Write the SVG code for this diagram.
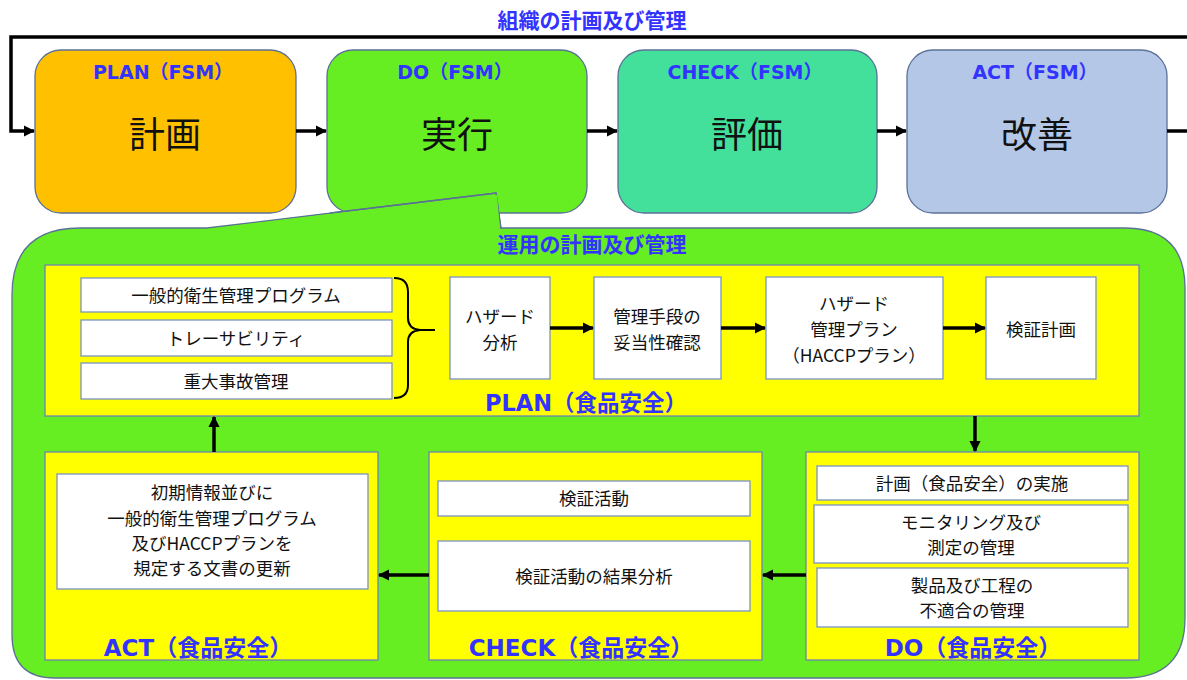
<svg xmlns="http://www.w3.org/2000/svg" width="1187" height="680" viewBox="0 0 1187 680">
<style>
.t{font-family:"Noto Sans CJK JP",sans-serif;fill:#111;text-anchor:middle;font-size:17.5px}
.m{font-size:36px}
.b{font-family:"DejaVu Sans","Noto Sans CJK JP",sans-serif;font-weight:bold;fill:#3333ff;text-anchor:middle}
.fsm{stroke:#5b7197;stroke-width:1.3}
.y{fill:#ffff00;stroke:#6c85b5;stroke-width:1.3}
.w{fill:#fff;stroke:#7a93c4;stroke-width:1.3}
.c{stroke:#000;stroke-width:3.5;fill:none}
</style>
<defs>
<marker id="ah" viewBox="0 0 10 10" refX="9" refY="5" markerWidth="3.2" markerHeight="3.2" orient="auto" markerUnits="strokeWidth"><path d="M0,0L10,5L0,10z" fill="#000"/></marker>
</defs>
<text class="b" x="592" y="28" font-size="21">組織の計画及び管理</text>
<g id="fsm-plan"><rect class="fsm" x="35" y="50" width="261" height="163" rx="26" fill="#ffc000"/><text class="b" x="163" y="79" font-size="19">PLAN（FSM）</text><text class="t m" x="165" y="148">計画</text></g>
<g id="fsm-do"><rect class="fsm" x="327" y="50" width="260" height="163" rx="26" fill="#66ee22"/><text class="b" x="455" y="79" font-size="19">DO（FSM）</text><text class="t m" x="457" y="148">実行</text></g>
<g id="fsm-check"><rect class="fsm" x="618" y="50" width="259" height="163" rx="26" fill="#42e09a"/><text class="b" x="745" y="79" font-size="19">CHECK（FSM）</text><text class="t m" x="747" y="148">評価</text></g>
<g id="fsm-act"><rect class="fsm" x="907" y="50" width="260" height="163" rx="26" fill="#b4c7e7"/><text class="b" x="1035" y="79" font-size="19">ACT（FSM）</text><text class="t m" x="1037" y="148">改善</text></g>
<g id="operation">
<path d="M12,295 Q12,228 80,228 L207,228 L496,193 L501,228 L1125,228 Q1185,228 1185,288 L1185,618 Q1185,678 1125,678 L55,678 Q12,678 12,635 Z" fill="#66ee22" stroke="#5b7197" stroke-width="1.3"/>
<path d="M330,213 L496,193 L501,229" fill="none" stroke="#5b7197" stroke-width="1.3"/>
<path d="M331,214 L207,229 L500,229 L497,195 Z" fill="#66ee22"/>
<text class="b" x="592" y="252" font-size="21">運用の計画及び管理</text>
</g>
<g id="plan-fs">
<rect class="y" x="45" y="265" width="1094" height="151"/>
<text class="b" x="586" y="411" font-size="22.5">PLAN（食品安全）</text>
<rect class="w" x="81" y="278" width="311" height="34"/><text class="t" x="236" y="302">一般的衛生管理プログラム</text>
<rect class="w" x="81" y="320" width="311" height="36"/><text class="t" x="236" y="345">トレーサビリティ</text>
<rect class="w" x="81" y="363" width="311" height="36"/><text class="t" x="236" y="388">重大事故管理</text>
<path d="M394,278 Q408,278 408,292 L408,318 Q408,329 420,330 L435,330 M420,330 Q408,331 408,342 L408,385 Q408,398 394,398" fill="none" stroke="#000" stroke-width="2"/>
<rect class="w" x="450" y="277" width="100" height="102"/><text class="t" x="500" y="323">ハザード</text><text class="t" x="500" y="349">分析</text>
<rect class="w" x="594" y="277" width="127" height="102"/><text class="t" x="657" y="323">管理手段の</text><text class="t" x="657" y="349">妥当性確認</text>
<rect class="w" x="766" y="277" width="177" height="102"/><text class="t" x="854" y="310">ハザード</text><text class="t" x="854" y="336">管理プラン</text><text class="t" x="854" y="362">（HACCPプラン）</text>
<rect class="w" x="986" y="277" width="110" height="102"/><text class="t" x="1041" y="336">検証計画</text>
</g>
<g id="act-fs">
<rect class="y" x="45" y="452" width="333" height="208"/>
<rect class="w" x="57" y="474" width="311" height="115"/>
<text class="t" x="212" y="499">初期情報並びに</text>
<text class="t" x="212" y="525">一般的衛生管理プログラム</text>
<text class="t" x="212" y="550">及びHACCPプランを</text>
<text class="t" x="212" y="575">規定する文書の更新</text>
<text class="b" x="198" y="656" font-size="23">ACT（食品安全）</text>
</g>
<g id="check-fs">
<rect class="y" x="429" y="452" width="333" height="208"/>
<rect class="w" x="438" y="481" width="312" height="35"/><text class="t" x="594" y="505">検証活動</text>
<rect class="w" x="438" y="541" width="312" height="70"/><text class="t" x="594" y="583">検証活動の結果分析</text>
<text class="b" x="581" y="656" font-size="23">CHECK（食品安全）</text>
</g>
<g id="do-fs">
<rect class="y" x="806" y="452" width="333" height="208"/>
<rect class="w" x="817" y="466" width="311" height="34"/><text class="t" x="972" y="490">計画（食品安全）の実施</text>
<rect class="w" x="814" y="505" width="314" height="58"/><text class="t" x="971" y="529">モニタリング及び</text><text class="t" x="971" y="554">測定の管理</text>
<rect class="w" x="817" y="568" width="311" height="59"/><text class="t" x="972" y="592">製品及び工程の</text><text class="t" x="972" y="617">不適合の管理</text>
<text class="b" x="973" y="656" font-size="23">DO（食品安全）</text>
</g>
<g id="connectors">
<path class="c" d="M1187,37 L11,37 L11,131 L34,131" marker-end="url(#ah)"/>
<path class="c" d="M296,131 L326,131" marker-end="url(#ah)"/>
<path class="c" d="M587,131 L617,131" marker-end="url(#ah)"/>
<path class="c" d="M877,131 L906,131" marker-end="url(#ah)"/>
<path class="c" d="M1167,131 L1187,131"/>
<path class="c" d="M550,328 L593,328" marker-end="url(#ah)"/>
<path class="c" d="M721,328 L765,328" marker-end="url(#ah)"/>
<path class="c" d="M943,328 L985,328" marker-end="url(#ah)"/>
<path class="c" d="M975,416 L975,451" marker-end="url(#ah)"/>
<path class="c" d="M806,575 L763,575" marker-end="url(#ah)"/>
<path class="c" d="M429,575 L379,575" marker-end="url(#ah)"/>
<path class="c" d="M214,452 L214,417" marker-end="url(#ah)"/>
</g>
</svg>
